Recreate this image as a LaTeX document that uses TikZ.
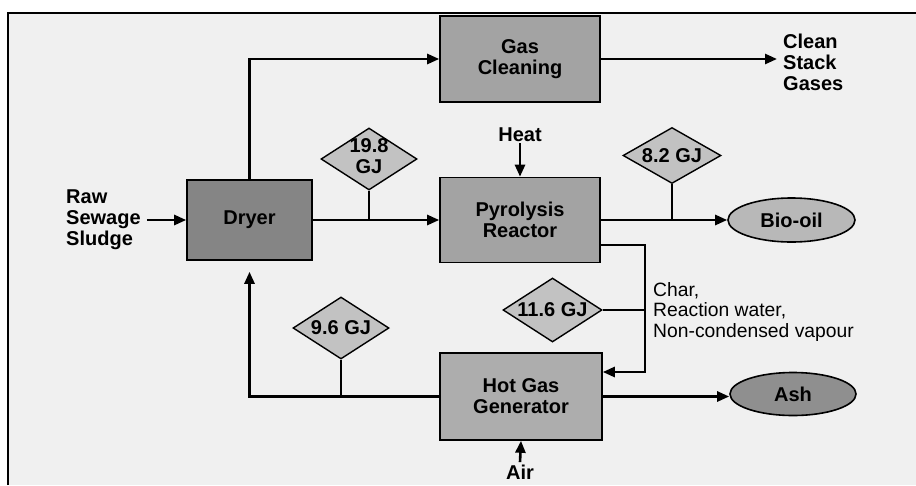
\documentclass[tikz,border=0pt]{standalone}
\usepackage{fontspec}
\setmainfont{Liberation Sans}
\usetikzlibrary{shapes.geometric,arrows.meta}
\begin{document}
\begin{tikzpicture}[x=1pt,y=-1pt,
  font=\fontsize{20}{21}\selectfont\bfseries,
  box/.style={draw=black,line width=1.6pt,inner sep=0pt,align=center,rectangle},
  diam/.style={draw=black,line width=1.4pt,shape=diamond,inner sep=0pt,fill=black!24},
  oval/.style={draw=black,line width=1.6pt,shape=ellipse,inner sep=0pt},
  lbl/.style={align=left,inner sep=0pt},
  flow/.style={line width=2.6pt},
  arr/.style={line width=2.6pt,-{Triangle[length=12pt,width=10pt]}},
]
\useasboundingbox (0,0) rectangle (916,485);
\fill[white] (0,0) rectangle (916,485);
\fill[black!6] (8,13) rectangle (916,485);
\draw[line width=1.2pt] (8,485) -- (8,13) -- (916,13);

% process boxes
\node[box,fill=black!36,minimum width=160pt,minimum height=86pt] (gas) at (520,59) {Gas\\Cleaning};
\node[box,fill=black!48,minimum width=125pt,minimum height=80pt] (dryer) at (249.5,220) {Dryer};
\node[box,fill=black!36,minimum width=160pt,minimum height=85pt] (pyro) at (520,220) {Pyrolysis\\Reactor};
\node[box,fill=black!32,minimum width=162pt,minimum height=87pt] (hot) at (521,396.5) {Hot Gas\\Generator};

% products
\node[oval,fill=black!28,minimum width=127pt,minimum height=44pt] (bio) at (791.5,220) {Bio-oil};
\node[oval,fill=black!44,minimum width=126pt,minimum height=43pt] (ash) at (793,394) {Ash};

% energy diamonds
\node[diam,minimum width=96pt,minimum height=62pt] (d1) at (369,159) {\makebox[0pt]{\begin{tabular}{@{}c@{}}19.8\\GJ\end{tabular}}};
\node[diam,minimum width=98pt,minimum height=56pt] (d2) at (672,155.5) {\makebox[0pt]{8.2 GJ}};
\node[diam,minimum width=99pt,minimum height=64pt] (d3) at (552.5,310) {\makebox[0pt]{11.6 GJ}};
\node[diam,minimum width=96pt,minimum height=62pt] (d4) at (341,328) {\makebox[0pt]{9.6 GJ}};

% labels
\node[lbl,anchor=west] (raw) at (66,220) {Raw\\Sewage\\Sludge};
\node[lbl,anchor=west] (clean) at (783,62) {Clean\\Stack\\Gases};
\node[inner sep=1pt] (heat) at (520,135) {Heat};
\node[lbl,anchor=west,font=\fontsize{19.3}{20.5}\selectfont] (char) at (653,312) {Char,\\Reaction water,\\Non-condensed vapour};
\node[anchor=south,inner sep=0pt] (air) at (520,480) {Air};

\coordinate (chartop) at (645,245);
\coordinate (charbot) at (645,372);

% connectors
\draw[arr] ([xshift=6pt]raw.east) -- (dryer.west);
\draw[arr] (dryer.north) |- (gas.west);
\draw[arr] (dryer.east) -- (pyro.west);
\draw[flow] (d1.south) -- (d1.south |- pyro.west);
\draw[arr] (heat.south) -- (pyro.north);
\draw[arr] (gas.east) -- ([xshift=-6pt]gas.east -| clean.west);
\draw[arr] (pyro.east) -- (bio.west);
\draw[flow] (d2.south) -- (d2.south |- pyro.east);
\draw[arr] (pyro.east |- chartop) -- (chartop) -- (charbot) -- (charbot -| hot.east);
\draw[flow] (d3.east) -- (d3.east -| chartop);
\draw[arr] ([yshift=3pt]air.north) -- (hot.south);
\draw[arr] (hot.east) -- (hot.east -| ash.west);
\draw[arr] (hot.west) -| ([yshift=-11pt]dryer.south);
\draw[flow] (d4.south) -- (d4.south |- hot.west);
\end{tikzpicture}
\end{document}
